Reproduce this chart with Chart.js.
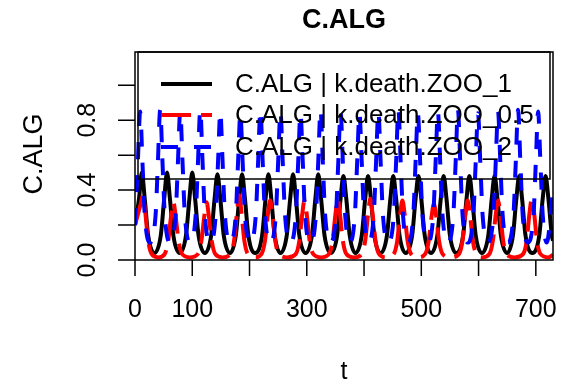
<!DOCTYPE html>
<html lang="en">
<head>
<meta charset="UTF-8">
<title>C.ALG</title>
<script src="https://cdn.jsdelivr.net/npm/chart.js"></script>
<style>
  html, body { margin: 0; padding: 0; background: #fff; }
  #wrap { width: 566px; height: 392px; }
</style>
</head>
<body>
<div id="wrap"><canvas id="chart" width="566" height="392"></canvas></div>
<script>
// k.death.ZOO = 1 (black, solid)
const tBlack = [0, 7, 12, 17, 23, 34,
  45, 51, 56, 61, 67, 78,
  89, 95, 100, 105, 111, 122,
  133, 139, 144, 149, 155, 166,
  176, 182, 187, 192, 198, 210,
  222, 228, 233, 238, 244, 254,
  265, 271, 276, 281, 287, 298,
  309, 315, 320, 325, 331, 342,
  353, 359, 364, 369, 375, 385,
  396, 402, 407, 412, 418, 429,
  440, 446, 451, 456, 462, 473,
  484, 490, 495, 500, 506, 517,
  528, 534, 539, 544, 550, 561,
  573, 579, 584, 589, 595, 606,
  617, 623, 628, 633, 639, 650,
  660, 666, 671, 676, 682, 694,
  706, 712, 717, 722, 728, 730];
const yBlack = [0.20, 0.35, 0.50, 0.35, 0.14, 0.04,
  0.14, 0.35, 0.50, 0.35, 0.14, 0.04,
  0.14, 0.35, 0.50, 0.35, 0.14, 0.04,
  0.14, 0.35, 0.49, 0.35, 0.14, 0.04,
  0.14, 0.35, 0.49, 0.35, 0.14, 0.04,
  0.14, 0.35, 0.49, 0.35, 0.14, 0.04,
  0.14, 0.35, 0.49, 0.35, 0.14, 0.04,
  0.14, 0.35, 0.49, 0.35, 0.14, 0.04,
  0.14, 0.35, 0.48, 0.35, 0.14, 0.04,
  0.14, 0.35, 0.48, 0.35, 0.14, 0.04,
  0.14, 0.35, 0.48, 0.35, 0.14, 0.04,
  0.14, 0.35, 0.48, 0.35, 0.14, 0.04,
  0.14, 0.35, 0.48, 0.35, 0.14, 0.04,
  0.14, 0.35, 0.48, 0.35, 0.14, 0.04,
  0.14, 0.35, 0.48, 0.35, 0.14, 0.04,
  0.14, 0.35, 0.48, 0.35, 0.14, 0.04,
  0.14, 0.35, 0.48, 0.35, 0.14, 0.11];

// k.death.ZOO = 0.5 (red, dashed)
const tRed = [0, 5, 10, 14, 18, 23, 29, 41,
  52, 58, 63, 67, 71, 76, 82, 96,
  110, 116, 121, 125, 129, 134, 140, 153,
  167, 173, 178, 182, 186, 191, 197, 209,
  221, 227, 232, 236, 240, 245, 251, 266,
  281, 287, 292, 296, 300, 305, 311, 325,
  339, 345, 350, 354, 358, 363, 369, 382,
  396, 402, 407, 411, 415, 420, 426, 439,
  452, 458, 463, 467, 471, 476, 482, 494,
  507, 513, 518, 522, 526, 531, 537, 551,
  566, 572, 577, 581, 585, 590, 596, 607,
  619, 625, 630, 634, 638, 643, 649, 663,
  678, 684, 689, 693, 697, 702, 708, 722, 730];
const yRed = [0.20, 0.26, 0.32, 0.37, 0.27, 0.11, 0.035, 0.015,
  0.035, 0.11, 0.25, 0.33, 0.25, 0.11, 0.035, 0.015,
  0.035, 0.11, 0.25, 0.33, 0.25, 0.11, 0.035, 0.015,
  0.035, 0.11, 0.27, 0.37, 0.27, 0.11, 0.035, 0.015,
  0.035, 0.11, 0.26, 0.34, 0.26, 0.11, 0.035, 0.015,
  0.035, 0.11, 0.26, 0.34, 0.26, 0.11, 0.035, 0.015,
  0.035, 0.11, 0.26, 0.35, 0.26, 0.11, 0.035, 0.015,
  0.035, 0.11, 0.26, 0.35, 0.26, 0.11, 0.035, 0.015,
  0.035, 0.11, 0.26, 0.34, 0.26, 0.11, 0.035, 0.015,
  0.035, 0.11, 0.25, 0.32, 0.25, 0.11, 0.035, 0.015,
  0.035, 0.11, 0.26, 0.34, 0.26, 0.11, 0.035, 0.015,
  0.035, 0.11, 0.26, 0.34, 0.26, 0.11, 0.035, 0.015,
  0.035, 0.11, 0.27, 0.35, 0.27, 0.11, 0.035, 0.015, 0.03];

// k.death.ZOO = 2 (blue, dashed)
const tBlue = [0, 5, 9, 13, 17, 26,
  36, 40, 44, 48, 52, 61,
  71, 75, 79, 83, 87, 96,
  106, 110, 114, 118, 122, 131,
  141, 145, 149, 153, 157, 166,
  176, 180, 184, 188, 192, 201,
  211, 215, 219, 223, 227, 236,
  246, 250, 254, 258, 262, 271,
  281, 285, 289, 293, 297, 306,
  316, 320, 324, 328, 332, 341,
  351, 355, 359, 363, 367, 375,
  384, 388, 392, 396, 400, 408,
  417, 421, 425, 429, 433, 442,
  452, 456, 460, 464, 468, 477,
  486, 490, 494, 498, 502, 511,
  521, 525, 529, 533, 537, 546,
  556, 560, 564, 568, 572, 581,
  591, 595, 599, 603, 607, 616,
  626, 630, 634, 638, 642, 651,
  661, 665, 669, 673, 677, 686,
  696, 700, 704, 708, 712, 719,
  730];
const yBlue = [0.20, 0.56, 0.85, 0.56, 0.26, 0.10,
  0.26, 0.56, 0.86, 0.56, 0.26, 0.10,
  0.26, 0.56, 0.85, 0.56, 0.26, 0.10,
  0.26, 0.56, 0.86, 0.56, 0.26, 0.10,
  0.26, 0.56, 0.85, 0.56, 0.26, 0.10,
  0.26, 0.56, 0.84, 0.56, 0.26, 0.10,
  0.26, 0.56, 0.86, 0.56, 0.26, 0.10,
  0.26, 0.56, 0.85, 0.56, 0.26, 0.10,
  0.26, 0.56, 0.84, 0.56, 0.26, 0.10,
  0.26, 0.56, 0.86, 0.56, 0.26, 0.10,
  0.26, 0.56, 0.85, 0.56, 0.26, 0.10,
  0.26, 0.56, 0.84, 0.56, 0.26, 0.10,
  0.26, 0.56, 0.85, 0.56, 0.26, 0.10,
  0.26, 0.56, 0.86, 0.56, 0.26, 0.10,
  0.26, 0.56, 0.84, 0.56, 0.26, 0.10,
  0.26, 0.56, 0.85, 0.56, 0.26, 0.10,
  0.26, 0.56, 0.86, 0.56, 0.26, 0.10,
  0.26, 0.56, 0.84, 0.56, 0.26, 0.10,
  0.26, 0.56, 0.85, 0.56, 0.26, 0.10,
  0.26, 0.56, 0.86, 0.56, 0.26, 0.10,
  0.26, 0.56, 0.85, 0.56, 0.26, 0.10,
  0.40];

const seriesNames = ['C.ALG | k.death.ZOO_1', 'C.ALG | k.death.ZOO_0.5', 'C.ALG | k.death.ZOO_2'];
const xTicks = [0, 100, 200, 300, 400, 500, 600, 700];
const xTickLabels = ['0', '100', '', '300', '', '500', '', '700'];
const yTicks = [0, 0.2, 0.4, 0.6, 0.8, 1.0];
const yTickLabels = ['0.0', '', '0.4', '', '0.8', ''];

const FONT = '"Liberation Sans", Arial, Helvetica, sans-serif';
const pts = (ts, ys) => ts.map((t, i) => ({ x: t, y: ys[i] }));

const styles = [
  { color: '#000000', dash: [] },
  { color: '#FF0000', dash: [30, 10] },
  { color: '#0000FF', dash: [17, 16] }
];

// R style box, axes, title and legend drawn on top
const rPlot = {
  id: 'rPlot',
  afterDraw(chart) {
    const { ctx, chartArea: a, scales: { x, y } } = chart;
    ctx.save();
    ctx.strokeStyle = '#000';
    ctx.lineWidth = 1.5;
    ctx.setLineDash([]);
    ctx.strokeRect(a.left, a.top, a.right - a.left, a.bottom - a.top);

    // ticks
    ctx.beginPath();
    xTicks.forEach(v => {
      const px = x.getPixelForValue(v);
      ctx.moveTo(px, a.bottom);
      ctx.lineTo(px, a.bottom + 16);
    });
    yTicks.forEach(v => {
      const py = y.getPixelForValue(v);
      ctx.moveTo(a.left, py);
      ctx.lineTo(a.left - 17, py);
    });
    ctx.stroke();

    ctx.fillStyle = '#000';
    ctx.textAlign = 'center';
    ctx.textBaseline = 'middle';
    ctx.font = '25px ' + FONT;
    xTicks.forEach((v, i) => {
      if (xTickLabels[i]) ctx.fillText(xTickLabels[i], x.getPixelForValue(v), 310);
    });
    yTicks.forEach((v, i) => {
      if (!yTickLabels[i]) return;
      ctx.save();
      ctx.translate(88, y.getPixelForValue(v));
      ctx.rotate(-Math.PI / 2);
      ctx.fillText(yTickLabels[i], 0, 0);
      ctx.restore();
    });

    // axis titles
    ctx.fillText('t', (a.left + a.right) / 2, 372);
    ctx.save();
    ctx.translate(35, 154);
    ctx.rotate(-Math.PI / 2);
    ctx.font = '27px ' + FONT;
    ctx.fillText('C.ALG', 0, 0);
    ctx.restore();

    // main title
    ctx.font = 'bold 27px ' + FONT;
    ctx.fillText('C.ALG', (a.left + a.right) / 2, 21);

    // legend (transparent box)
    ctx.lineWidth = 1.5;
    ctx.strokeRect(138, a.top, 412, 127);
    const rows = [84, 115, 147];
    ctx.font = '26px ' + FONT;
    ctx.textAlign = 'left';
    rows.forEach((ry, i) => {
      ctx.beginPath();
      ctx.strokeStyle = styles[i].color;
      ctx.lineWidth = 4;
      ctx.setLineDash(styles[i].dash);
      ctx.moveTo(161, ry);
      ctx.lineTo(212, ry);
      ctx.stroke();
      ctx.setLineDash([]);
      ctx.fillStyle = '#000';
      ctx.fillText(seriesNames[i], 235, ry + 1);
    });
    ctx.restore();
  }
};

const mk = (i, data, order) => ({
  label: seriesNames[i],
  data: data,
  borderColor: styles[i].color,
  borderWidth: 4,
  borderDash: styles[i].dash,
  pointRadius: 0,
  fill: false,
  cubicInterpolationMode: 'monotone',
  order: order
});

new Chart(document.getElementById('chart'), {
  type: 'line',
  data: {
    datasets: [
      mk(0, pts(tBlack, yBlack), 3),
      mk(1, pts(tRed, yRed), 2),
      mk(2, pts(tBlue, yBlue), 1)
    ]
  },
  options: {
    responsive: false,
    devicePixelRatio: 1,
    animation: false,
    events: [],
    layout: { padding: { left: 135, right: 13, top: 52, bottom: 132 } },
    scales: {
      x: { type: 'linear', min: 0, max: 730, display: false },
      y: { type: 'linear', min: 0, max: 1.19, display: false }
    },
    plugins: { legend: { display: false }, tooltip: { enabled: false } }
  },
  plugins: [rPlot]
});
</script>
</body>
</html>
